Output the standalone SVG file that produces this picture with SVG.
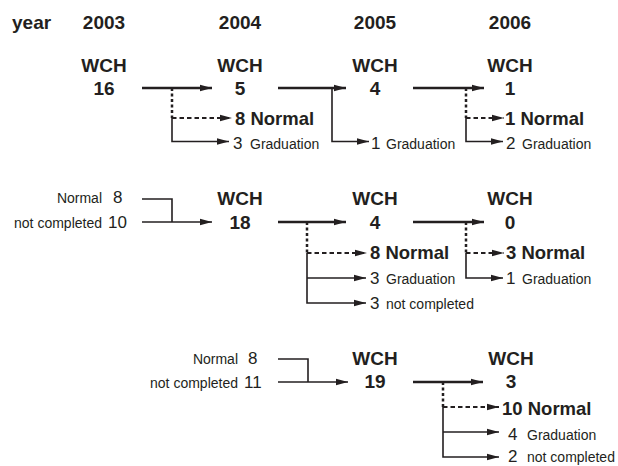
<svg xmlns="http://www.w3.org/2000/svg" width="618" height="466" viewBox="0 0 618 466">
<defs>
<marker id="ah" markerUnits="userSpaceOnUse" markerWidth="12" markerHeight="8" refX="12" refY="4" orient="auto"><path d="M0,0.8 L12,4 L0,7.2 z" fill="#231f20"/></marker>
</defs>
<style>
text{font-family:"Liberation Sans",Arial,sans-serif;fill:#231f20}
.hd{font-size:19px;font-weight:bold}
.n{font-size:19px;font-weight:bold;text-anchor:middle}
.b{font-size:18.5px;font-weight:bold}
.num{font-size:17px}
.s{font-size:14px}
.end{text-anchor:end}
.main{fill:none;stroke:#231f20;stroke-width:2.5}
.sol{fill:none;stroke:#231f20;stroke-width:1.6}
.dot{fill:none;stroke:#231f20;stroke-width:2.5;stroke-dasharray:3 2.5}
.dsh{fill:none;stroke:#231f20;stroke-width:2.2;stroke-dasharray:4.5 3}
.arr{marker-end:url(#ah)}
</style>
<rect width="618" height="466" fill="#fff"/>
<g id="header">
<text class="hd" x="12" y="29">year</text>
<text class="hd" x="104" y="29" text-anchor="middle">2003</text>
<text class="hd" x="240" y="29" text-anchor="middle">2004</text>
<text class="hd" x="375" y="29" text-anchor="middle">2005</text>
<text class="hd" x="510" y="29" text-anchor="middle">2006</text>
</g>
<g id="connectors">
<path class="main arr" d="M142,88 H212"/>
<path class="dot" d="M172,88 V118"/>
<path class="dsh arr" d="M172,118 H232"/>
<path class="sol arr" d="M172,118 V141.5 H229"/>
<path class="main arr" d="M278,88 H346"/>
<path class="sol arr" d="M332,88 V141.5 H369"/>
<path class="main arr" d="M413,88 H484"/>
<path class="dot" d="M466,88 V118"/>
<path class="dsh arr" d="M466,118 H504"/>
<path class="sol arr" d="M466,118 V141.5 H503"/>
<path class="sol" d="M142,199 H172 V222"/>
<path class="sol arr" d="M142,222 H212"/>
<path class="main arr" d="M278,222 H346"/>
<path class="dot" d="M307,222 V253"/>
<path class="dsh arr" d="M307,253 H367"/>
<path class="sol arr" d="M307,253 V303 H366"/>
<path class="sol arr" d="M307,278 H366"/>
<path class="main arr" d="M413,222 H484"/>
<path class="dot" d="M466,222 V253"/>
<path class="dsh arr" d="M466,253 H504"/>
<path class="sol arr" d="M466,253 V278 H503"/>
<path class="sol" d="M278,359 H308 V382"/>
<path class="sol arr" d="M278,382 H348"/>
<path class="main arr" d="M413,382 H483"/>
<path class="dot" d="M443,382 V407"/>
<path class="dsh arr" d="M443,407 H499"/>
<path class="sol arr" d="M443,407 V457 H499"/>
<path class="sol arr" d="M443,432 H499"/>
</g>
<g id="wch-2003"><text class="n" x="104" y="72">WCH</text><text class="n" x="104" y="95">16</text></g>
<g id="wch-2004a"><text class="n" x="240" y="72">WCH</text><text class="n" x="240" y="95">5</text></g>
<g id="wch-2005a"><text class="n" x="375" y="72">WCH</text><text class="n" x="375" y="95">4</text></g>
<g id="wch-2006a"><text class="n" x="510" y="72">WCH</text><text class="n" x="510" y="95">1</text></g>
<g id="out-r1">
<text class="b" x="235" y="125">8 Normal</text>
<text x="233" y="149"><tspan class="num">3</tspan><tspan class="s" x="250">Graduation</tspan></text>
<text x="371" y="149"><tspan class="num">1</tspan><tspan class="s" x="386">Graduation</tspan></text>
<text class="b" x="505" y="125">1 Normal</text>
<text x="506" y="149"><tspan class="num">2</tspan><tspan class="s" x="522">Graduation</tspan></text>
</g>
<g id="in-r2">
<text class="s end" x="102" y="203">Normal</text><text class="num" x="113" y="203">8</text>
<text class="s end" x="102" y="228">not completed</text><text class="num" x="108" y="228">10</text>
</g>
<g id="wch-2004b"><text class="n" x="240" y="205">WCH</text><text class="n" x="240" y="229">18</text></g>
<g id="wch-2005b"><text class="n" x="375" y="205">WCH</text><text class="n" x="375" y="229">4</text></g>
<g id="wch-2006b"><text class="n" x="510" y="205">WCH</text><text class="n" x="510" y="229">0</text></g>
<g id="out-r2">
<text class="b" x="370" y="259">8 Normal</text>
<text x="370" y="284"><tspan class="num">3</tspan><tspan class="s" x="386">Graduation</tspan></text>
<text x="370" y="309"><tspan class="num">3</tspan><tspan class="s" x="386">not completed</tspan></text>
<text class="b" x="506" y="259">3 Normal</text>
<text x="506" y="284"><tspan class="num">1</tspan><tspan class="s" x="522">Graduation</tspan></text>
</g>
<g id="in-r3">
<text class="s end" x="238" y="364">Normal</text><text class="num" x="248" y="364">8</text>
<text class="s end" x="238" y="388">not completed</text><text class="num" x="244" y="388">11</text>
</g>
<g id="wch-2005c"><text class="n" x="375" y="365">WCH</text><text class="n" x="375" y="388">19</text></g>
<g id="wch-2006c"><text class="n" x="511" y="365">WCH</text><text class="n" x="511" y="388">3</text></g>
<g id="out-r3">
<text class="b" x="502" y="415">10 Normal</text>
<text x="508" y="440"><tspan class="num">4</tspan><tspan class="s" x="527">Graduation</tspan></text>
<text x="508" y="462"><tspan class="num">2</tspan><tspan class="s" x="527">not completed</tspan></text>
</g>
</svg>
